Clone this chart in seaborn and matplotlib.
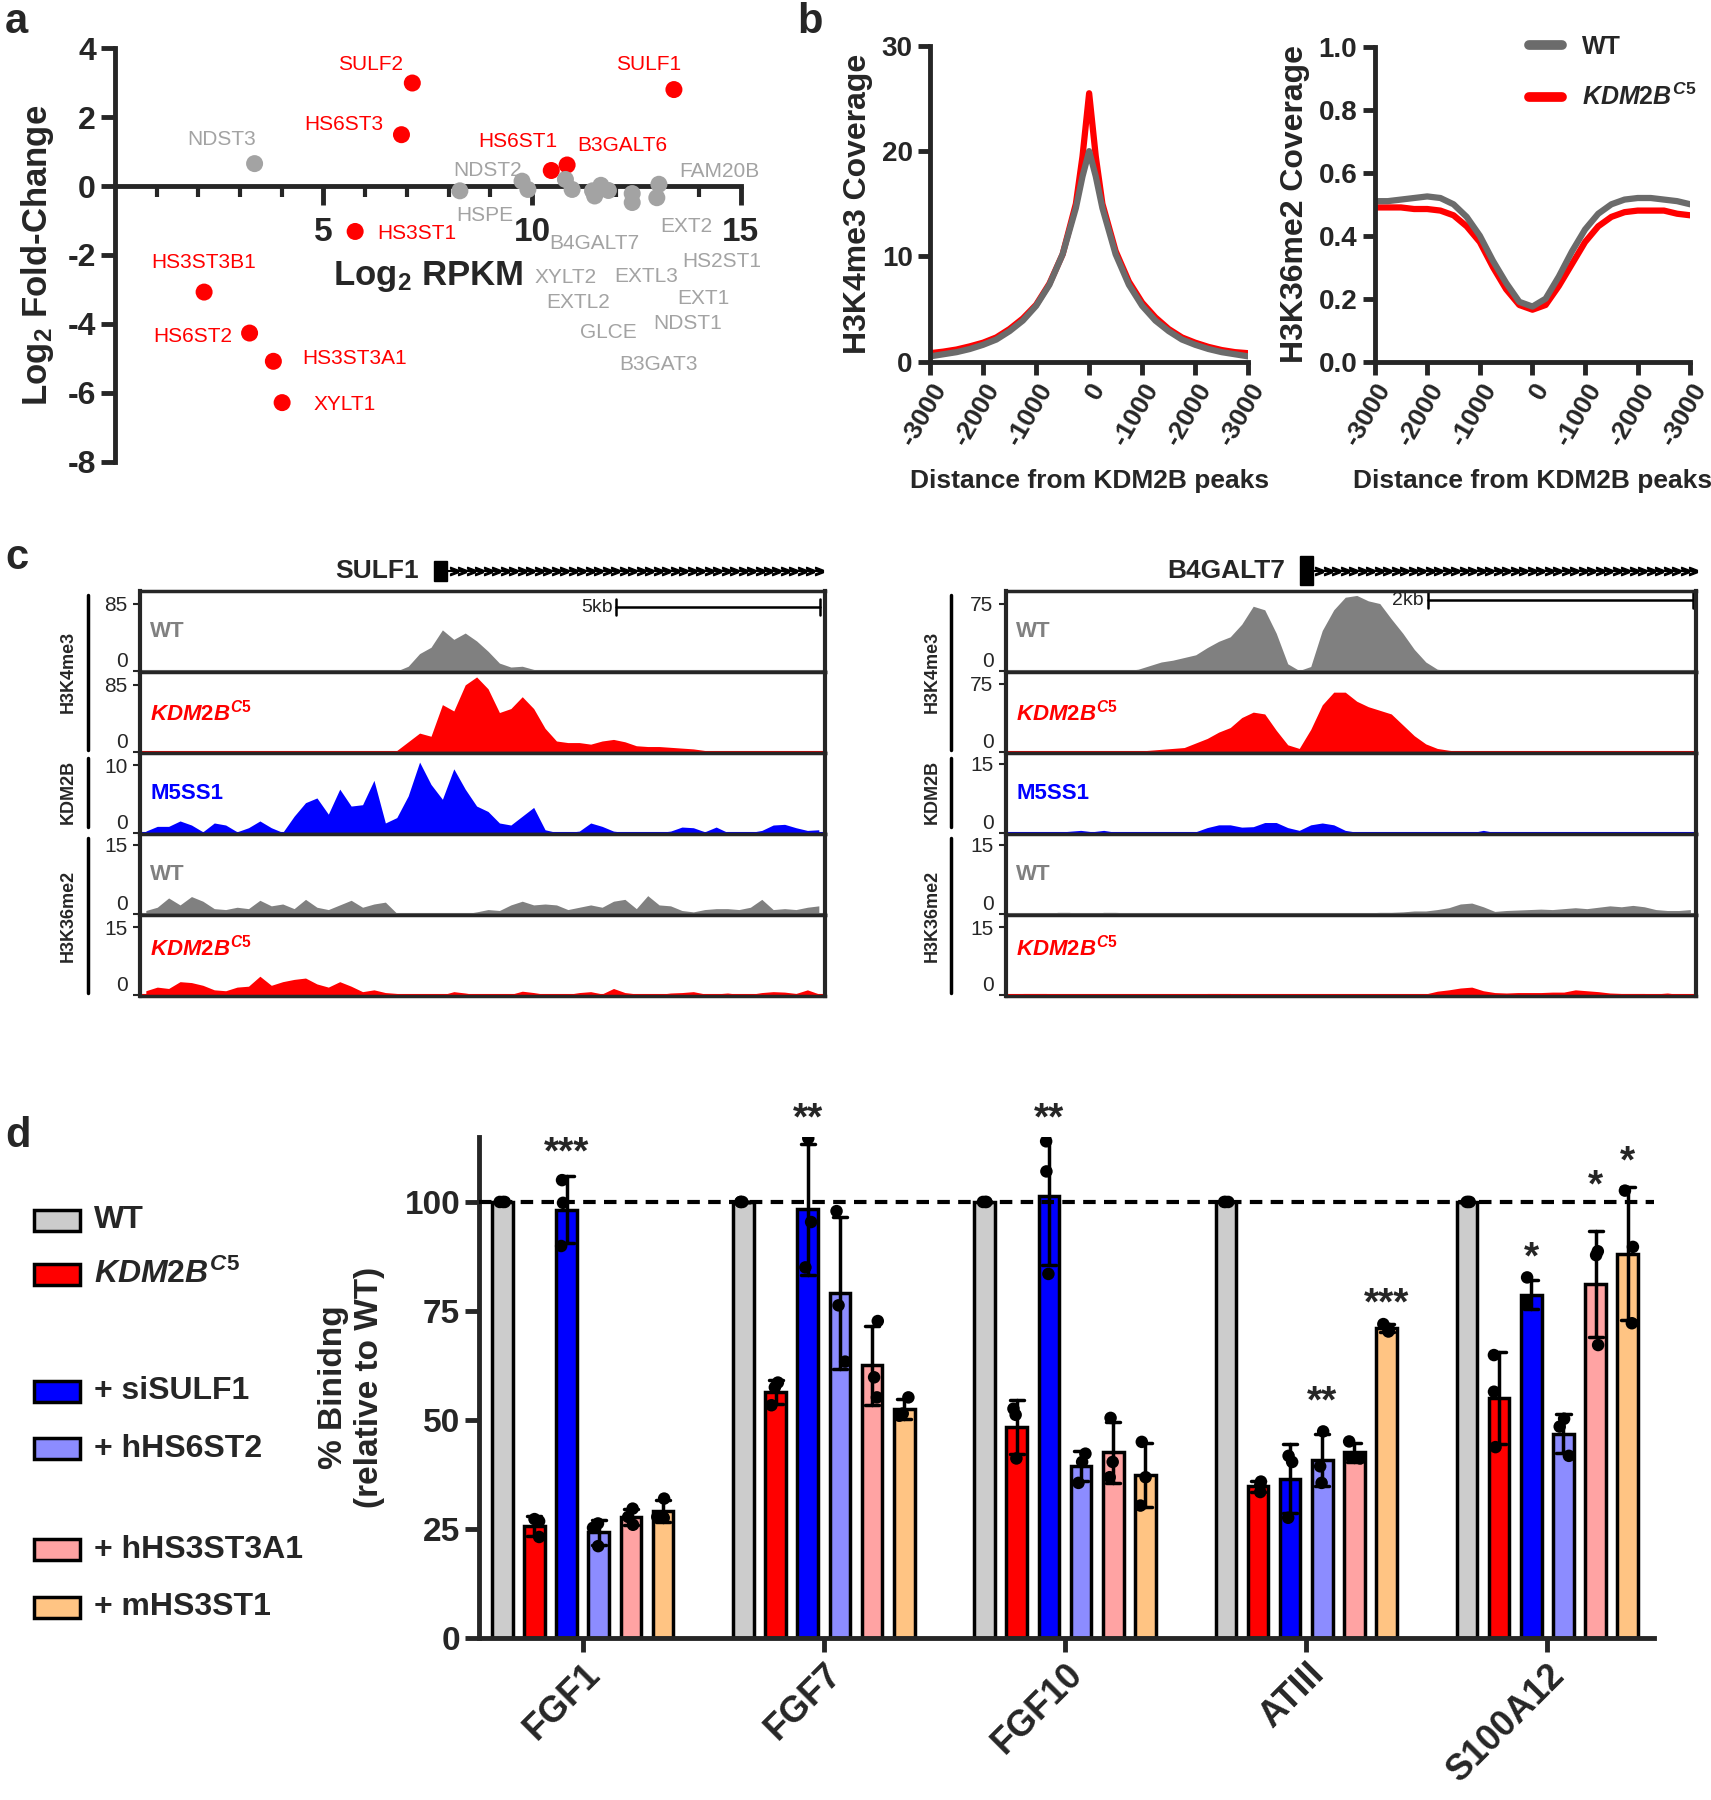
import numpy as np
import pandas as pd
import seaborn as sns
import matplotlib.pyplot as plt
from matplotlib.patches import Rectangle
from matplotlib.lines import Line2D

sns.set_style('ticks')
plt.rcParams['font.family'] = ['Liberation Sans', 'DejaVu Sans']
plt.rcParams['mathtext.fontset'] = 'custom'
plt.rcParams['mathtext.rm'] = 'Liberation Sans:bold'
plt.rcParams['mathtext.it'] = 'Liberation Sans:italic:bold'
plt.rcParams['mathtext.bf'] = 'Liberation Sans:bold'
plt.rcParams['mathtext.default'] = 'rm'
plt.rcParams['axes.unicode_minus'] = False

RED = '#ff0000'
BLUE = '#0000ff'
GRAY_A = '#a3a3a3'
GRAY_B = '#6b6b6b'
GRAY_C = '#808080'
KDM = r'$\mathit{KDM2B}^{\mathit{C5}}$'

# ---------------- data: panel a ----------------
sig_genes = ['SULF2', 'SULF1', 'HS6ST3', 'HS6ST1', 'B3GALT6', 'HS3ST1',
             'HS3ST3B1', 'HS6ST2', 'HS3ST3A1', 'XYLT1']
sig_rpkm = [7.13, 13.4, 6.87, 10.46, 10.84, 5.76, 2.14, 3.23, 3.8, 4.01]
sig_lfc = [2.99, 2.8, 1.49, 0.45, 0.61, -1.32, -3.08, -4.27, -5.09, -6.29]
ns_genes = ['NDST3', 'HSPE', 'NDST2', 'B4GALT7', 'XYLT2', 'EXTL2', 'EXTL3',
            'GLCE', 'EXT2', 'HS2ST1', 'NDST1', 'B3GAT3', 'FAM20B', 'EXT1']
ns_rpkm = [3.35, 8.27, 9.76, 9.9, 10.8, 10.96, 11.45, 11.5, 11.65, 11.83,
           12.4, 12.4, 13.04, 12.99]
ns_lfc = [0.65, -0.14, 0.14, -0.1, 0.19, -0.1, -0.14, -0.29, 0.02, -0.13,
          -0.22, -0.48, 0.05, -0.34]
# label placement (data coords of the text centre)
label_pos = {
    'SULF2': (6.14, 3.52), 'SULF1': (12.8, 3.54), 'HS6ST3': (5.5, 1.8),
    'HS6ST1': (9.67, 1.3), 'B3GALT6': (12.17, 1.19), 'HS3ST1': (7.23, -1.37),
    'HS3ST3B1': (2.14, -2.22), 'HS6ST2': (1.87, -4.37), 'HS3ST3A1': (5.75, -5.01),
    'XYLT1': (5.52, -6.33), 'NDST3': (2.55, 1.35), 'NDST2': (8.94, 0.45),
    'FAM20B': (14.48, 0.43), 'HSPE': (8.86, -0.87), 'EXT2': (13.7, -1.19),
    'B4GALT7': (11.5, -1.67), 'HS2ST1': (14.54, -2.2), 'XYLT2': (10.8, -2.65),
    'EXTL3': (12.73, -2.62), 'EXTL2': (11.1, -3.37), 'EXT1': (14.1, -3.26),
    'NDST1': (13.73, -4.0), 'GLCE': (11.84, -4.26), 'B3GAT3': (13.04, -5.18),
}

# ---------------- data: panel b ----------------
dist_k4 = [-3000, -2750, -2500, -2250, -2000, -1750, -1500, -1250, -1000, -750, -500,
           -250, -125, 0, 125, 250, 500, 750, 1000, 1250, 1500, 1750, 2000, 2250,
           2500, 2750, 3000]
k4_wt = [0.5, 0.7, 0.9, 1.2, 1.6, 2.1, 2.9, 3.9, 5.3, 7.3, 10.2, 14.6, 17.6, 20.0,
         17.6, 14.6, 10.2, 7.3, 5.3, 3.9, 2.9, 2.1, 1.6, 1.2, 0.9, 0.7, 0.5]
k4_c5 = [0.8, 0.95, 1.15, 1.45, 1.8, 2.3, 3.1, 4.1, 5.4, 7.4, 10.2, 15.0, 19.5, 25.5,
         19.5, 15.0, 10.5, 7.6, 5.6, 4.2, 3.1, 2.3, 1.8, 1.4, 1.1, 0.9, 0.8]
dist_k36 = [-3000, -2750, -2500, -2250, -2000, -1750, -1500, -1250, -1000, -750, -500,
            -250, 0, 250, 500, 750, 1000, 1250, 1500, 1750, 2000, 2250, 2500, 2750, 3000]
k36_wt = [0.51, 0.51, 0.515, 0.52, 0.525, 0.52, 0.50, 0.46, 0.40, 0.32, 0.25, 0.19,
          0.175, 0.20, 0.27, 0.35, 0.42, 0.47, 0.50, 0.515, 0.52, 0.52, 0.515, 0.51, 0.50]
k36_c5 = [0.49, 0.49, 0.49, 0.485, 0.485, 0.48, 0.465, 0.43, 0.38, 0.30, 0.23, 0.18,
          0.165, 0.18, 0.24, 0.31, 0.38, 0.43, 0.46, 0.475, 0.48, 0.48, 0.48, 0.47, 0.465]
dist_ticklabels = ['-3000', '-2000', '-1000', '0', '-1000', '-2000', '-3000']

# ---------------- data: panel c (60 bins across each locus) ----------------
sulf1_k4_wt = [0] * 22 + [0, 6, 22, 30, 52, 40, 48, 38, 25, 10, 5, 6, 2] + [0] * 7 + [0.5] + [0] * 17
sulf1_k4_c5 = [0.5] * 22 + [2, 13, 24, 20, 60, 52, 85, 95, 80, 50, 55, 70, 55, 30, 14, 12,
                            12, 10, 14, 16, 13, 8, 7, 7, 6, 5, 4, 2] + [1.5, 1, 1, 1.5, 1, 1, 1, 1, 1, 1]
sulf1_kdm2b = [0.3, 1.0, 1.0, 1.8, 1.2, 0.2, 1.5, 1.2, 0.2, 0.8, 1.8, 0.8, 0.1, 2.5, 4.5,
               5.2, 2.8, 6.5, 4.0, 4.2, 7.8, 1.5, 2.3, 5.5, 10.5, 7.2, 5.0, 9.5, 6.5, 4.0,
               3.2, 1.5, 1.2, 2.5, 3.8, 0.5, 0.1, 0.1, 0.3, 1.5, 1.0, 0.3, 0.1, 0.1, 0.2,
               0.1, 0.3, 0.9, 0.8, 0.2, 0.9, 0.1, 0.1, 0.1, 0.4, 1.2, 1.3, 0.8, 0.4, 0.5]
sulf1_k36_wt = [0.8, 1.5, 3.5, 2.0, 3.8, 2.8, 1.2, 1.0, 1.5, 1.2, 3.0, 1.8, 2.2, 1.2, 3.2,
                1.5, 1.0, 2.0, 3.0, 1.5, 2.2, 2.6, 0.2, 0.1, 0.1, 0.1, 0.1, 0.1, 0.1, 0.5,
                1.0, 0.8, 2.0, 2.8, 2.0, 2.2, 2.0, 1.0, 1.5, 2.0, 1.5, 2.8, 3.2, 1.2, 4.0,
                2.0, 1.8, 0.8, 0.5, 1.0, 1.2, 1.2, 1.0, 1.5, 3.2, 1.0, 1.2, 1.0, 1.5, 1.8]
sulf1_k36_c5 = [1.0, 1.8, 1.5, 3.0, 2.8, 2.2, 1.2, 1.0, 1.8, 2.0, 4.2, 2.2, 3.0, 3.5, 3.8,
                2.5, 1.8, 3.0, 2.0, 0.8, 1.2, 0.6, 0.4, 0.2, 0.1, 0.1, 0.1, 0.8, 0.5, 0.1,
                0.1, 0.1, 0.2, 0.9, 0.6, 0.2, 0.1, 0.2, 0.6, 0.8, 0.3, 1.5, 0.6, 0.3, 0.2,
                0.2, 0.5, 0.6, 0.8, 0.3, 0.3, 0.5, 0.2, 0.2, 0.6, 0.8, 0.7, 0.4, 1.2, 0.3]
b4galt7_k4_wt = [0] * 10 + [0.5, 2, 6, 10, 12, 15, 18, 26, 33, 38, 52, 72, 68, 42, 8, 0.5,
                            5, 45, 68, 82, 84, 78, 75, 58, 42, 24, 10, 2, 0.5] + [0.2] * 3 + [0.6] + [0.2] * 17
b4galt7_k4_c5 = [0.3] * 11 + [1, 2, 3, 4, 5, 10, 15, 22, 27, 38, 44, 42, 24, 8, 4, 25, 52,
                              66, 66, 56, 50, 46, 42, 30, 18, 9, 4, 2, 0.5] + [0.3] * 20
b4galt7_kdm2b = [0.05] * 4 + [0.2, 0.4, 0.6, 0.3, 0.6, 0.2, 0.1, 0.1, 0.1, 0.1, 0.1, 0.1,
                              0.3, 1.2, 1.8, 1.8, 1.3, 1.4, 2.3, 2.3, 1.2, 0.6, 1.8, 2.2,
                              1.8, 0.6, 0.2] + [0.1] * 10 + [0.6] + [0.15] * 18
b4galt7_k36_wt = [0.05] * 4 + [0.4, 0.4, 0.1, 0.1, 0.4, 0.4, 0.3] + [0.05] * 20 + \
    [0.3, 0.4, 0.4, 0.5, 0.7, 0.7, 1.0, 1.4, 2.2, 2.4, 1.6, 0.6, 0.8, 0.9, 1.0, 1.1, 1.0,
     1.2, 1.4, 1.2, 1.5, 1.8, 1.6, 1.9, 1.6, 1.0, 0.8, 0.8, 1.0]
b4galt7_k36_c5 = [0.1, 0.4, 0.4, 0.4, 0.3] + [0.05] * 12 + [0.4, 0.4, 0.4, 0.2] + [0.05] * 11 + \
    [0.2, 0.2, 0.2, 0.2, 0.3, 0.9, 1.2, 1.6, 1.8, 1.0, 0.6, 0.5, 0.6, 0.6, 0.6, 0.7, 0.7,
     1.2, 1.0, 0.8, 0.5, 0.4, 0.4, 0.4, 0.3, 0.5, 0.2, 0.3]

# ---------------- data: panel d (three replicates per bar) ----------------
targets = ['FGF1', 'FGF7', 'FGF10', 'ATIII', 'S100A12']
conditions = ['WT', 'KDM2B', 'siSULF1', 'hHS6ST2', 'hHS3ST3A1', 'mHS3ST1']
wt_reps = [[100, 100, 100]] * 5
c5_reps = [[27.3, 26.8, 23.2], [58.6, 57.5, 53.4], [52.6, 51.2, 41.2],
           [35.9, 35.1, 33.5], [64.9, 56.5, 43.8]]
sisulf1_reps = [[105.0, 99.8, 89.9], [114.6, 95.4, 85.0], [113.9, 107.0, 83.5],
                [41.8, 40.4, 27.6], [82.7, 77.1, 76.5]]
hhs6st2_reps = [[26.3, 25.3, 21.1], [97.9, 76.3, 63.4], [42.3, 40.4, 35.6],
                [47.4, 39.4, 35.6], [50.3, 48.5, 41.8]]
hhs3st3a1_reps = [[29.7, 27.8, 26.0], [72.7, 59.8, 55.2], [50.5, 40.4, 36.9],
                  [45.1, 41.5, 41.2], [88.7, 87.8, 67.2]]
mhs3st1_reps = [[32.0, 27.8, 27.6], [55.2, 51.5, 51.0], [45.0, 36.9, 30.4],
                [72.0, 70.9, 70.3], [102.6, 89.7, 72.2]]
stars = [('FGF1', 'siSULF1', '***', 111), ('FGF7', 'siSULF1', '**', 119),
         ('FGF10', 'siSULF1', '**', 119), ('ATIII', 'hHS6ST2', '**', 54),
         ('ATIII', 'mHS3ST1', '***', 76.5), ('S100A12', 'siSULF1', '*', 87),
         ('S100A12', 'hHS3ST3A1', '*', 103.5), ('S100A12', 'mHS3ST1', '*', 109)]
bar_colors = {'WT': '#cccccc', 'KDM2B': RED, 'siSULF1': BLUE, 'hHS6ST2': '#8c8cff',
              'hHS3ST3A1': '#ffa3a3', 'mHS3ST1': '#ffc483'}
legend_labels = {'WT': 'WT', 'KDM2B': KDM, 'siSULF1': '+ siSULF1', 'hHS6ST2': '+ hHS6ST2',
                 'hHS3ST3A1': '+ hHS3ST3A1', 'mHS3ST1': '+ mHS3ST1'}

fig = plt.figure(figsize=(17.11, 18), dpi=100)

# ================= panel a =================
df_a = pd.DataFrame({
    'gene': sig_genes + ns_genes,
    'rpkm': sig_rpkm + ns_rpkm,
    'lfc': sig_lfc + ns_lfc,
    'group': ['sig'] * len(sig_genes) + ['ns'] * len(ns_genes),
})
ax_a = fig.add_axes([0.0671, 0.7436, 0.3658, 0.2296])
sns.scatterplot(data=df_a, x='rpkm', y='lfc', hue='group', palette={'sig': RED, 'ns': GRAY_A},
                s=150, linewidth=0, legend=False, ax=ax_a, zorder=3, clip_on=False)
for g, (tx, ty) in label_pos.items():
    col = RED if g in sig_genes else GRAY_A
    ax_a.text(tx, ty, g, color=col, fontsize=15, ha='center', va='center')
ax_a.set_xlim(0, 15)
ax_a.set_ylim(-8, 4)
ax_a.spines['bottom'].set_position(('data', 0))
ax_a.spines[['top', 'right']].set_visible(False)
ax_a.spines[['left', 'bottom']].set_linewidth(3.5)
ax_a.set_xticks([5, 10, 15])
ax_a.set_xticks(range(1, 15), minor=True)
ax_a.tick_params(axis='x', which='major', length=14, width=3.5, pad=8, labelsize=24)
ax_a.tick_params(axis='x', which='minor', length=8, width=3)
ax_a.set_yticks(range(-8, 5, 2))
ax_a.tick_params(axis='y', length=10, width=3.5, labelsize=23)
for lab in ax_a.get_xticklabels() + ax_a.get_yticklabels():
    lab.set_fontweight('bold')
ax_a.set_xlabel('')
ax_a.set_ylabel('Log$_2$ Fold-Change', fontsize=25, fontweight='bold', labelpad=8)
ax_a.text(7.5, -2.63, 'Log$_2$ RPKM', ha='center', va='center', fontsize=25, fontweight='bold')

# ================= panel b =================
df_k4 = pd.DataFrame({'dist': dist_k4 * 2, 'cov': k4_c5 + k4_wt,
                      'cond': ['KDM2B'] * len(dist_k4) + ['WT'] * len(dist_k4)})
df_k36 = pd.DataFrame({'dist': dist_k36 * 2, 'cov': k36_c5 + k36_wt,
                       'cond': ['KDM2B'] * len(dist_k36) + ['WT'] * len(dist_k36)})
pal_b = {'KDM2B': RED, 'WT': GRAY_B}
ax_b1 = fig.add_axes([0.5436, 0.7991, 0.1859, 0.1754])
ax_b2 = fig.add_axes([0.8034, 0.7991, 0.1845, 0.1748])
for ax, df, yl, yt, fmt in [(ax_b1, df_k4, 'H3K4me3 Coverage', [0, 10, 20, 30], '{:.0f}'),
                            (ax_b2, df_k36, 'H3K36me2 Coverage', [0, 0.2, 0.4, 0.6, 0.8, 1.0], '{:.1f}')]:
    sns.lineplot(data=df, x='dist', y='cov', hue='cond', hue_order=['KDM2B', 'WT'],
                 palette=pal_b, linewidth=4.5, legend=False, ax=ax)
    ax.set_xlim(-3000, 3000)
    ax.set_ylim(yt[0], yt[-1])
    ax.spines[['top', 'right']].set_visible(False)
    ax.spines[['left', 'bottom']].set_linewidth(3.5)
    ax.set_xticks(range(-3000, 3001, 1000))
    ax.set_xticklabels(dist_ticklabels, rotation=60, ha='right', rotation_mode='anchor',
                       fontsize=19, fontweight='bold')
    ax.set_yticks(yt)
    ax.set_yticklabels([fmt.format(v) for v in yt], fontsize=20, fontweight='bold')
    ax.tick_params(length=9, width=3.5)
    ax.set_ylabel(yl, fontsize=23, fontweight='bold', labelpad=6)
    ax.set_xlabel('Distance from KDM2B peaks', fontsize=19, fontweight='bold', labelpad=14)
ax_b2.legend(handles=[Line2D([], [], color=GRAY_B, lw=7), Line2D([], [], color=RED, lw=7)],
             labels=['WT', KDM], loc='upper right', bbox_to_anchor=(1.09, 1.11), frameon=False,
             prop={'size': 18, 'weight': 'bold'}, handlelength=1.3, labelspacing=1.0)

# ================= panel c =================
track_x = (np.arange(60) + 0.5) / 60


def draw_locus(left, width, tracks, group_x, line_x):
    heights = 0.2252 / 5
    axes = []
    for i, (vals, col, name, ytop, ylab) in enumerate(tracks):
        ax = fig.add_axes([left, 0.6716 - heights * (i + 1), width, heights])
        ax.fill_between(track_x, 0, vals, color=col, lw=0)
        ax.axhline(0, color=col, lw=1.5)
        ax.set_xlim(0, 1)
        ax.set_ylim(-ytop * 0.015, ytop)
        ax.set_xticks([])
        ax.set_yticks([0, ylab])
        ax.set_yticklabels(['0', str(ylab)], fontsize=15)
        ax.get_yticklabels()[0].set_va('bottom')
        ax.tick_params(axis='y', length=5, width=1.5, pad=4)
        for s in ax.spines.values():
            s.set_linewidth(2.5)
        ax.spines['left'].set_linewidth(3)
        ax.spines['right'].set_linewidth(3)
        tc = GRAY_C if name == 'WT' else col
        ax.text(0.015, 0.6 if i == 4 else 0.5, name, transform=ax.transAxes, color=tc,
                fontsize=16, fontweight='bold', ha='left', va='center')
        axes.append(ax)
    for lab, y0, y1 in [('H3K4me3', 0.6696, 0.5835), ('KDM2B', 0.5791, 0.5408),
                        ('H3K36me2', 0.5344, 0.4483)]:
        fig.add_artist(Line2D([line_x, line_x], [y0, y1], transform=fig.transFigure,
                              color='k', lw=2.5))
        fig.text(group_x, (y0 + y1) / 2, lab, rotation=90, ha='center', va='center',
                 fontsize=13, fontweight='bold')
    return axes


left_tracks = [(sulf1_k4_wt, GRAY_C, 'WT', 101, 85), (sulf1_k4_c5, RED, KDM, 101, 85),
               (sulf1_kdm2b, BLUE, 'M5SS1', 11.8, 10), (sulf1_k36_wt, GRAY_C, 'WT', 17.2, 15),
               (sulf1_k36_c5, RED, KDM, 17.6, 15)]
right_tracks = [(b4galt7_k4_wt, GRAY_C, 'WT', 88.8, 75), (b4galt7_k4_c5, RED, KDM, 88, 75),
                (b4galt7_kdm2b, BLUE, 'M5SS1', 17.3, 15), (b4galt7_k36_wt, GRAY_C, 'WT', 17.2, 15),
                (b4galt7_k36_c5, RED, KDM, 17.6, 15)]
axL = draw_locus(0.0819, 0.4, left_tracks, 0.040, 0.0517)
axR = draw_locus(0.5879, 0.4034, right_tracks, 0.545, 0.5557)

# scale bars
for ax, lab, x0, x1, y in [(axL[0], '5kb', 0.696, 0.993, 0.8), (axR[0], '2kb', 0.611, 0.995, 0.886)]:
    ax.plot([x0, x1], [y, y], color='k', lw=1.8, transform=ax.transAxes)
    for xx in (x0, x1):
        ax.plot([xx, xx], [y - 0.1, y + 0.1], color='k', lw=1.8, transform=ax.transAxes)
    ax.text(x0 - 0.006, y, lab, transform=ax.transAxes, ha='right', va='center', fontsize=14)

# gene models (coordinates in reference pixels)
ax_g = fig.add_axes([0, 0.673, 1, 0.02])
ax_g.set_xlim(0, 1490)
ax_g.set_ylim(-1, 1)
ax_g.axis('off')
for name, tx, ex0, ex1, eh, x1 in [('SULF1', 328, 378, 389, 0.55, 716),
                                   ('B4GALT7', 1068, 1132, 1143, 0.8, 1475)]:
    ax_g.text(tx, 0, name, ha='center', va='center', fontsize=19, fontweight='bold')
    ax_g.add_patch(Rectangle((ex0, -eh), ex1 - ex0, 2 * eh, color='k'))
    ax_g.plot([ex1, x1], [0, 0], color='k', lw=1.5)
    ax_g.plot(np.arange(ex1 + 6, x1, 7.4), np.zeros(len(np.arange(ex1 + 6, x1, 7.4))),
              ls='none', marker='$>$', ms=6, color='k')

# ================= panel d =================
rows = []
for cond, reps in zip(conditions, [wt_reps, c5_reps, sisulf1_reps, hhs6st2_reps,
                                   hhs3st3a1_reps, mhs3st1_reps]):
    for t, r in zip(targets, reps):
        for v in r:
            rows.append({'target': t, 'cond': cond, 'binding': v})
df_d = pd.DataFrame(rows)

ax_d = fig.add_axes([0.2799, 0.0899, 0.6865, 0.2787])
sns.barplot(data=df_d, x='target', y='binding', hue='cond', order=targets, hue_order=conditions,
            palette=bar_colors, saturation=1, errorbar='sd', capsize=0.35,
            err_kws={'color': 'k', 'linewidth': 2.5}, width=0.8, gap=0.36,
            edgecolor='k', linewidth=2.5, legend=False, ax=ax_d)
np.random.seed(3)
sns.stripplot(data=df_d, x='target', y='binding', hue='cond', order=targets,
              hue_order=conditions, palette={c: 'k' for c in conditions}, dodge=True,
              jitter=0.15, size=9, legend=False, ax=ax_d, zorder=4)
ax_d.axhline(100, color='k', ls=(0, (3, 2)), lw=3, zorder=5)
step = 0.8 / len(conditions)
for t, c, s, y in stars:
    x = targets.index(t) + (conditions.index(c) - (len(conditions) - 1) / 2) * step
    ax_d.text(x, y, s, ha='center', va='center', fontsize=28, fontweight='bold')
ax_d.set_xlim(-0.43, 4.44)
ax_d.set_ylim(0, 115)
ax_d.set_yticks([0, 25, 50, 75, 100])
ax_d.set_yticklabels(['0', '25', '50', '75', '100'], fontsize=24, fontweight='bold')
ax_d.set_xticks(range(len(targets)))
ax_d.set_xticklabels(targets, rotation=45, ha='right', rotation_mode='anchor',
                     fontsize=26, fontweight='bold')
ax_d.tick_params(length=10, width=3.5)
ax_d.spines[['top', 'right']].set_visible(False)
ax_d.spines[['left', 'bottom']].set_linewidth(3.5)
ax_d.set_xlabel('')
ax_d.set_ylabel('% Binidng\n(relative to WT)', fontsize=24, fontweight='bold', labelpad=14)

for cond, yc in zip(conditions, [0.3221, 0.2921, 0.2270, 0.1952, 0.1390, 0.1071]):
    fig.add_artist(Rectangle((0.0201, yc - 0.0058), 0.0269, 0.0116, transform=fig.transFigure,
                             facecolor=bar_colors[cond], edgecolor='k', lw=2.5))
    fig.text(0.055, yc, legend_labels[cond], ha='left', va='center', fontsize=23,
             fontweight='bold')

# panel letters
for lab, x, y in [('a', 0.003, 0.988), ('b', 0.466, 0.988), ('c', 0.003, 0.69), ('d', 0.003, 0.369)]:
    fig.text(x, y, lab, fontsize=30, fontweight='bold', ha='left', va='center')

fig.savefig('out.png', dpi=100)
